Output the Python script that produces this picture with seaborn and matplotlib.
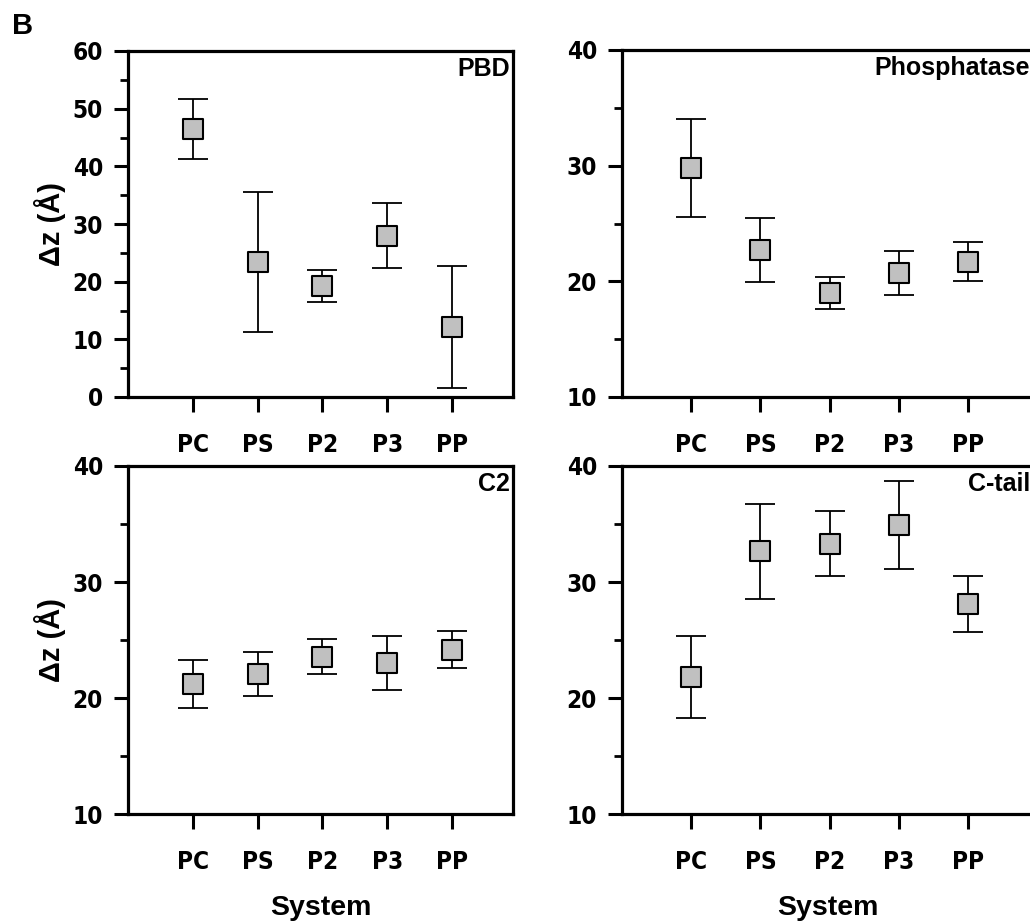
import matplotlib
matplotlib.use("Agg")
import matplotlib.pyplot as plt
import seaborn as sns
import pandas as pd
from matplotlib.ticker import MultipleLocator

# systems on the x axis
systems = ["PC", "PS", "P2", "P3", "PP"]

# mean and error (SD) per domain
pbd_mean = [46.45, 23.4, 19.25, 28.0, 12.1]
pbd_err = [5.15, 12.1, 2.85, 5.6, 10.6]

phos_mean = [29.8, 22.7, 19.0, 20.7, 21.7]
phos_err = [4.2, 2.8, 1.4, 1.9, 1.7]

c2_mean = [21.2, 22.05, 23.55, 23.0, 24.15]
c2_err = [2.1, 1.9, 1.5, 2.35, 1.6]

ctail_mean = [21.8, 32.65, 33.3, 34.9, 28.1]
ctail_err = [3.55, 4.1, 2.8, 3.8, 2.4]

sns.set_theme(style="ticks")
plt.rcParams["font.family"] = ["Liberation Sans"]
plt.rcParams["font.weight"] = "bold"
plt.rcParams["text.color"] = "black"
plt.rcParams["axes.labelcolor"] = "black"

W, H = 1030, 924
fig = plt.figure(figsize=(W / 100, H / 100), dpi=100)


def box(l, r, t, b):
    return [l / W, 1 - b / H, (r - l) / W, (b - t) / H]


panels = [
    ("PBD", pbd_mean, pbd_err, (0, 60), box(128, 513, 51, 397), True, False),
    ("Phosphatase", phos_mean, phos_err, (10, 40), box(622, 1033, 50, 397), False, False),
    ("C2", c2_mean, c2_err, (10, 40), box(128, 513, 466, 814), True, True),
    ("C-tail", ctail_mean, ctail_err, (10, 40), box(622, 1033, 466, 814), False, True),
]

for name, mean, err, ylim, pos, left, bottom in panels:
    ax = fig.add_axes(pos)
    df = pd.DataFrame({"system": systems, "dz": mean, "err": err})

    # whiskers first, then the grey squares on top
    ax.errorbar(range(len(systems)), df["dz"], yerr=df["err"], fmt="none",
                ecolor="black", elinewidth=1.3, capsize=11, capthick=1.3, zorder=2)
    sns.scatterplot(data=df, x="system", y="dz", marker="s", s=225,
                    color="#c0c0c0", edgecolor="black", linewidth=1.5,
                    ax=ax, zorder=3, legend=False)

    ax.set_xlim(-1, 4.94)
    ax.set_ylim(*ylim)
    ax.yaxis.set_major_locator(MultipleLocator(10))
    ax.yaxis.set_minor_locator(MultipleLocator(5))

    for s in ax.spines.values():
        s.set_linewidth(2.3)
        s.set_color("black")
    ax.tick_params(axis="y", which="major", direction="out", length=10, width=2.2,
                   pad=8, labelsize=17.5, colors="black")
    ax.tick_params(axis="y", which="minor", direction="out", length=6, width=2.0,
                   colors="black")
    ax.tick_params(axis="x", direction="out", length=11, width=2.2, pad=15,
                   labelsize=17.5, colors="black")
    for lab in ax.get_xticklabels() + ax.get_yticklabels():
        lab.set_fontweight("bold")
        lab.set_family("DejaVu Sans")
        lab.set_stretch("condensed")

    ax.set_xlabel("")
    ax.set_ylabel("")
    ax.text(1 - 3 / 385, 1 - 6 / 346, name, transform=ax.transAxes,
            ha="right", va="top", fontsize=18, fontweight="bold", color="black")

    if left:
        ax.set_ylabel("\u0394z (\u00c5)", fontsize=21, fontweight="bold", va="center")
        ax.yaxis.set_label_coords(-0.203, 0.5)
    if bottom:
        ax.set_xlabel("System", fontsize=20.5, fontweight="bold", va="center")
        ax.xaxis.set_label_coords(0.5, -0.27)

fig.text(12 / W, 1 - 26 / H, "B", fontsize=21, fontweight="bold",
         ha="left", va="center", color="black")

fig.savefig("out.png", dpi=100, facecolor="white")
